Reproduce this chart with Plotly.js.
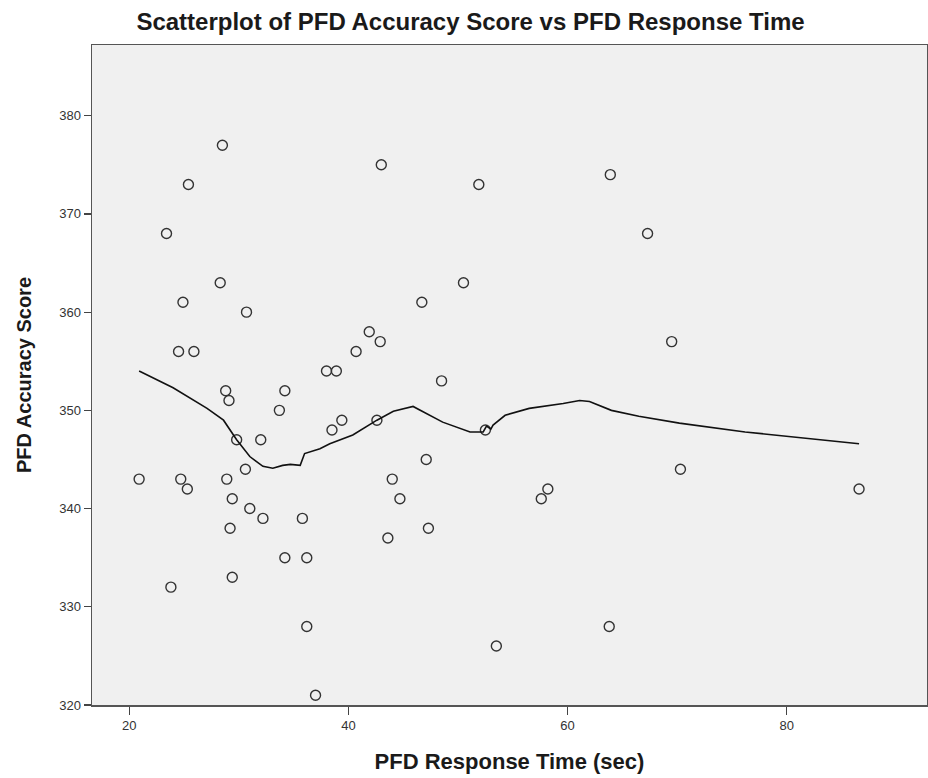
<!DOCTYPE html>
<html>
<head>
<meta charset="utf-8">
<script src="https://cdn.plot.ly/plotly-3.0.1.min.js"></script>
<style>html,body{margin:0;padding:0;background:#fff;}#chart{width:928px;height:778px;}</style>
</head>
<body>
<div id="chart"></div>
<script>
// Scatter data: PFD Response Time (sec) vs PFD Accuracy Score
const responseTime = [28.5,25.4,23.4,28.3,24.9,30.7,24.5,25.9,28.8,29.1,34.2,33.7,29.8,32.0,30.6,20.9,24.7,25.3,28.9,29.4,31.0,32.2,35.8,29.2,34.2,36.2,23.8,29.4,36.2,37.0,41.9,42.9,40.7,38.0,38.9,48.5,39.4,38.5,42.6,52.5,47.1,44.0,44.7,47.3,43.6,53.5,43.0,51.9,63.9,67.3,50.5,46.7,69.5,70.3,86.6,58.2,57.6,63.8];
const accuracyScore = [377,373,368,363,361,360,356,356,352,351,352,350,347,347,344,343,343,342,343,341,340,339,339,338,335,335,332,333,328,321,358,357,356,354,354,353,349,348,349,348,345,343,341,338,337,326,375,373,374,368,363,361,357,344,342,342,341,328];

// Loess fit line
const fitX = [20.9,24.0,27.1,28.6,29.8,31.0,32.2,33.1,34.0,34.7,35.6,36.0,37.4,38.3,40.4,42.6,44.1,45.9,48.6,51.1,52.3,52.6,53.0,53.2,54.3,56.5,59.6,61.1,62.0,64.0,66.5,70.2,76.2,82.3,86.6];
const fitY = [354.0,352.3,350.2,349.0,347.0,345.3,344.3,344.1,344.4,344.5,344.4,345.6,346.1,346.6,347.5,349.0,349.9,350.4,348.8,347.8,347.8,348.4,348.1,348.5,349.5,350.2,350.7,351.0,350.9,350.0,349.4,348.7,347.8,347.1,346.6];

const xTicks = [20,40,60,80];
const yTicks = [320,330,340,350,360,370,380];

const traces = [
  {
    x: responseTime, y: accuracyScore, type: 'scatter', mode: 'markers',
    marker: {symbol: 'circle-open', size: 10, color: '#333333', line: {width: 1.4, color: '#333333'}},
    showlegend: false, hoverinfo: 'x+y'
  },
  {
    x: fitX, y: fitY, type: 'scatter', mode: 'lines',
    line: {color: '#111111', width: 1.6},
    showlegend: false, hoverinfo: 'skip'
  }
];

const fontFam = 'Liberation Sans, Arial, sans-serif';
const layout = {
  width: 928, height: 778,
  margin: {l: 92, r: 1, t: 45, b: 73},
  paper_bgcolor: '#ffffff',
  plot_bgcolor: '#f0f0f0',
  font: {family: fontFam, color: '#333333', size: 13},
  title: {
    text: '<b>Scatterplot of PFD Accuracy Score vs PFD Response Time</b>',
    font: {family: fontFam, size: 24, color: '#1a1a1a'},
    x: 0.507, xanchor: 'center', y: 0.972, yanchor: 'middle'
  },
  xaxis: {
    range: [16.6, 92.8],
    tickvals: xTicks, ticktext: xTicks.map(String),
    ticks: 'outside', ticklen: 8, tickcolor: '#444', tickwidth: 1.2,
    showgrid: false, zeroline: false,
    showline: true, linecolor: '#555555', linewidth: 1.5, mirror: true,
    tickfont: {size: 13, color: '#333333'},
    title: {text: '<b>PFD Response Time (sec)</b>', font: {family: fontFam, size: 22, color: '#1a1a1a'}, standoff: 21}
  },
  yaxis: {
    range: [320, 387.2],
    tickvals: yTicks, ticktext: yTicks.map(String),
    ticks: 'outside', ticklen: 7, tickcolor: '#444', tickwidth: 1.2,
    showgrid: false, zeroline: false,
    showline: true, linecolor: '#555555', linewidth: 1.5, mirror: true,
    tickfont: {size: 13, color: '#333333'},
    title: {text: '<b>PFD Accuracy Score</b>', font: {family: fontFam, size: 20, color: '#1a1a1a'}, standoff: 22}
  }
};

Plotly.newPlot('chart', traces, layout, {displayModeBar: false, staticPlot: true});
</script>
</body>
</html>
